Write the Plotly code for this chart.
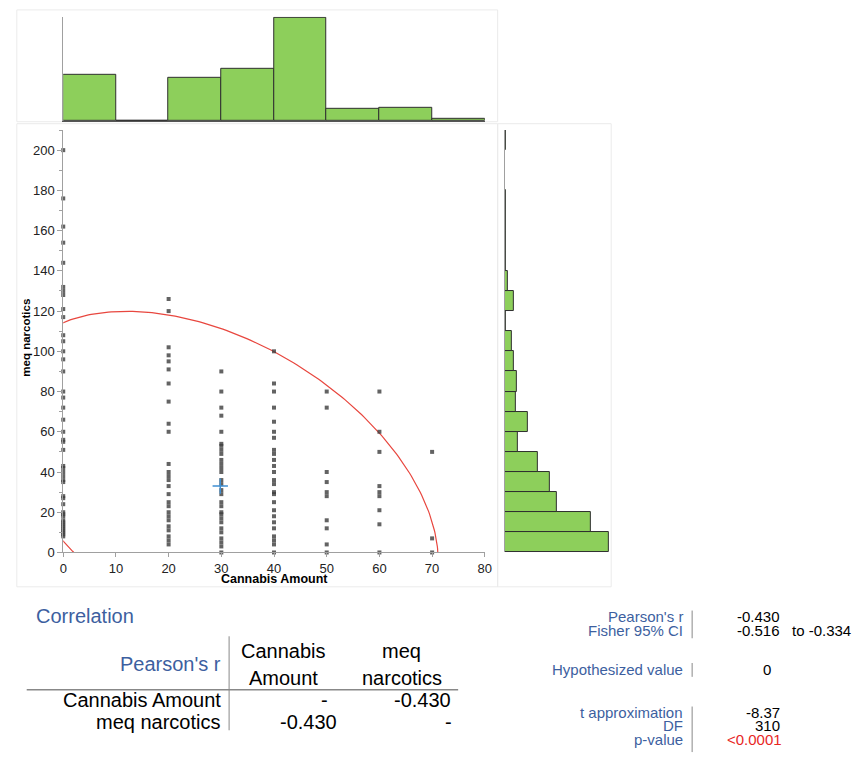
import numpy as np
import plotly.graph_objects as go

# ---------------- data ----------------
x_bin_starts = [0, 10, 20, 30, 40, 50, 60, 70]
x_bin_counts = [53, 0, 49, 60, 118, 14, 15, 3]

y_bin_starts = [0, 10, 20, 30, 40, 50, 60, 70, 80, 90, 100, 110, 120, 130,
                140, 150, 160, 170, 180, 190, 200]
y_bin_counts = [78, 65, 39, 34, 25, 10, 17, 8, 9, 7, 5, 1, 7, 2,
                1, 1, 1, 1, 0, 0, 1]

meq_at_0 = [200, 176, 162, 154, 144, 132, 130, 128, 121, 117, 108, 105, 100, 96, 90,
            80, 77, 72, 66, 60, 56, 55, 51, 43, 42, 40, 38, 36, 35, 28, 27, 24, 20,
            19, 18, 16, 15, 14, 13, 12, 11, 10, 9, 8]
meq_at_20 = [126, 120, 102, 98, 95, 91, 84, 75, 64, 60, 44, 40, 38, 36, 33, 29, 25,
             23, 20, 18, 16, 13, 11, 8, 6, 4]
meq_at_30 = [90, 80, 72, 68, 60, 54, 53, 51, 49, 46, 44, 42, 40, 36, 34, 31, 29, 25,
             23, 20, 19, 17, 15, 12, 10, 7, 5, 3, 0]
meq_at_40 = [100, 84, 80, 72, 65, 60, 57, 51, 49, 46, 43, 40, 36, 34, 30, 29, 25, 21,
             18, 15, 12, 8, 6, 4, 0]
meq_at_50 = [80, 72, 40, 35, 30, 28, 16, 12, 4, 0]
meq_at_60 = [80, 60, 50, 33, 30, 28, 21, 14, 0]
meq_at_70 = [50, 7, 0]

# summary statistics (for mean marker and 95% density ellipse)
mean_cannabis = 29.8
mean_meq = 33.0
sd_cannabis = 16.9
sd_meq = 35.5
pearson_r = -0.430
ellipse_level_chi2 = 5.991

x_ticks = [0, 10, 20, 30, 40, 50, 60, 70, 80]
y_ticks = [0, 20, 40, 60, 80, 100, 120, 140, 160, 180, 200]

# ---------------- build ----------------
cols = [(0, meq_at_0), (20, meq_at_20), (30, meq_at_30), (40, meq_at_40),
        (50, meq_at_50), (60, meq_at_60), (70, meq_at_70)]
sx, sy = [], []
for c, vals in cols:
    sx += [c] * len(vals)
    sy += vals

cov = np.array([[sd_cannabis ** 2, pearson_r * sd_cannabis * sd_meq],
                [pearson_r * sd_cannabis * sd_meq, sd_meq ** 2]])
L = np.linalg.cholesky(cov)
t = np.linspace(0, 2 * np.pi, 400)
circ = np.vstack([np.cos(t), np.sin(t)]) * np.sqrt(ellipse_level_chi2)
ell = L @ circ
ex = ell[0] + mean_cannabis
ey = ell[1] + mean_meq

W, H = 865, 766
def px(x):
    return x / W
def py(y):
    return 1 - y / H

FONT = "Arial, 'Liberation Sans', sans-serif"
GREEN = "#8dcf5b"
EDGE = "#2f2f2f"
BLUE = "#3d5f9f"
AXC = "#a0a0a0"

fig = go.Figure()

fig.add_trace(go.Bar(x=x_bin_starts, y=x_bin_counts, width=10, offset=0,
                     marker=dict(color=GREEN, line=dict(color=EDGE, width=1)),
                     xaxis="x2", yaxis="y2", showlegend=False, hoverinfo="skip"))

fig.add_trace(go.Bar(y=y_bin_starts, x=y_bin_counts, width=10, offset=0, orientation="h",
                     marker=dict(color=GREEN, line=dict(color=EDGE, width=1)),
                     xaxis="x3", yaxis="y3", showlegend=False, hoverinfo="skip"))

fig.add_trace(go.Scatter(x=ex, y=ey, mode="lines",
                         line=dict(color="#e8473f", width=1.2),
                         showlegend=False, hoverinfo="skip"))

fig.add_trace(go.Scatter(x=sx, y=sy, mode="markers", cliponaxis=False,
                         marker=dict(symbol="square", size=4, color="rgba(60,60,60,0.8)",
                                     line=dict(width=0)),
                         showlegend=False))

fig.add_trace(go.Scatter(x=[mean_cannabis], y=[mean_meq], mode="markers",
                         marker=dict(symbol="cross-thin", size=11,
                                     line=dict(color="#3f8fd2", width=1.5)),
                         showlegend=False))

sc_xdom = [px(60), px(487)]
sc_ydom = [py(558.3), py(131.4)]

fig.update_layout(
    width=W, height=H,
    margin=dict(l=0, r=0, t=0, b=0),
    paper_bgcolor="white", plot_bgcolor="white",
    font=dict(family=FONT, size=13, color="#222"),
    bargap=0,
    xaxis=dict(domain=sc_xdom, range=[0, 80], tickvals=x_ticks,
               showline=True, linecolor=AXC, linewidth=1,
               ticks="outside", ticklen=4, tickcolor=AXC,
               showgrid=False, zeroline=False, anchor="y",
               tickfont=dict(size=13, color="#222")),
    yaxis=dict(domain=sc_ydom, range=[0, 210], tickvals=y_ticks,
               showline=True, linecolor=AXC, linewidth=1,
               ticks="outside", ticklen=5, tickcolor=AXC,
               minor=dict(ticks="outside", ticklen=3, tickcolor=AXC, dtick=10),
               showgrid=False, zeroline=False, anchor="x",
               tickfont=dict(size=13, color="#222")),
    xaxis2=dict(domain=sc_xdom, range=[0, 80], anchor="y2",
                showline=True, linecolor="#555", linewidth=1,
                showticklabels=False, ticks="", showgrid=False, zeroline=False),
    yaxis2=dict(domain=[py(122.3), py(17)], range=[0, 119], anchor="x2",
                showline=True, linecolor=AXC, linewidth=1,
                showticklabels=False, ticks="", showgrid=False, zeroline=False),
    xaxis3=dict(domain=[px(507.3), px(615)], range=[0, 80], anchor="y3",
                showline=False, showticklabels=False, ticks="",
                showgrid=False, zeroline=False),
    yaxis3=dict(domain=sc_ydom, range=[0, 210], anchor="x3",
                showline=True, linecolor=AXC, linewidth=1,
                showticklabels=False, ticks="", showgrid=False, zeroline=False),
)

shapes = []
def rect(x0, y0, x1, y1, color="#ebebeb"):
    shapes.append(dict(type="rect", xref="paper", yref="paper",
                       x0=px(x0), x1=px(x1), y0=py(y1), y1=py(y0),
                       line=dict(color=color, width=1), layer="below"))
def line(x0, y0, x1, y1, color="#777", width=1):
    shapes.append(dict(type="line", xref="paper", yref="paper",
                       x0=px(x0), x1=px(x1), y0=py(y0), y1=py(y1),
                       line=dict(color=color, width=width)))

rect(13, 10, 500, 123)
rect(13, 125, 500, 593)
rect(500, 125, 615, 593)

# table lines
line(228, 643, 228, 738, color="#888")
line(23, 697, 460, 697, color="#888", width=1.5)
line(697, 617, 697, 645, color="#888")
line(697, 670, 697, 684, color="#888")
line(697, 714, 697, 760, color="#888")
fig.update_layout(shapes=shapes)

ann = []
def text(s, x, y, anchor="left", size=17, color="#000", bold=False, **kw):
    ann.append(dict(text=(f"<b>{s}</b>" if bold else s), x=px(x), y=py(y),
                    xref="paper", yref="paper", xanchor=anchor, yanchor="middle",
                    showarrow=False, font=dict(size=size, color=color, family=FONT), **kw))

text("Cannabis Amount", 273.5, 585.5, anchor="center", size=12.5, bold=True)
ann.append(dict(text="<b>meq narcotics</b>", x=px(22.5), y=py(341), xref="paper", yref="paper",
                xanchor="center", yanchor="middle", textangle=-90, showarrow=False,
                font=dict(size=11.5, color="#000", family=FONT)))

TS = 20
text("Correlation", 30, 622, size=TS, color=BLUE)
text("Pearson's r", 222, 671, anchor="right", size=TS, color=BLUE)
text("Cannabis", 283, 658, anchor="center", size=TS)
text("Amount", 283, 685, anchor="center", size=TS)
text("meq", 403, 658, anchor="center", size=TS)
text("narcotics", 403, 685, anchor="center", size=TS)
text("Cannabis Amount", 222, 707, anchor="right", size=TS)
text("meq narcotics", 222, 730, anchor="right", size=TS)
text("-", 330, 707, anchor="right", size=TS)
text("-0.430", 455, 707, anchor="right", size=TS)
text("-0.430", 339, 730, anchor="right", size=TS)
text("-", 456, 730, anchor="right", size=TS)

SS = 15
text("Pearson's r", 690, 623.5, anchor="right", size=SS, color=BLUE)
text("Fisher 95% CI", 690, 637, anchor="right", size=SS, color=BLUE)
text("Hypothesized value", 690, 677, anchor="right", size=SS, color=BLUE)
text("t approximation", 690, 720, anchor="right", size=SS, color=BLUE)
text("DF", 690, 733.5, anchor="right", size=SS, color=BLUE)
text("p-value", 690, 747, anchor="right", size=SS, color=BLUE)

text("-0.430", 788, 623.5, anchor="right", size=SS)
text("-0.516", 788, 637, anchor="right", size=SS)
text("to -0.334", 796, 637, anchor="left", size=SS)
text("0", 773, 677, anchor="center", size=SS)
text("-8.37", 788, 720, anchor="right", size=SS)
text("310", 788, 733.5, anchor="right", size=SS)
text("<0.0001", 790, 747, anchor="right", size=SS, color="#e8261f")

fig.update_layout(annotations=ann)

post = ("var s=document.createElement('style');"
        "s.textContent='html,body{margin:0;padding:0;width:865px;height:766px;overflow:hidden;}';"
        "document.head.appendChild(s);")
fig.write_html("out.html", config={"displayModeBar": False}, post_script=post)
